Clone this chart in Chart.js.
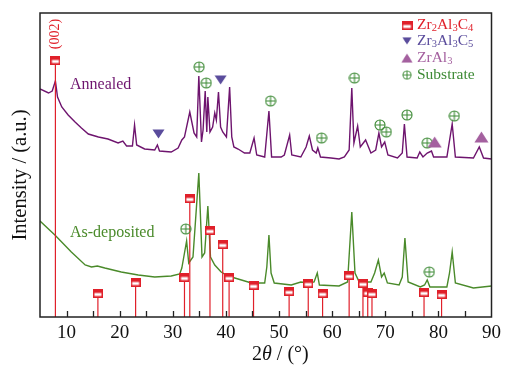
<!DOCTYPE html>
<html>
<head>
<meta charset="utf-8">
<script src="https://cdn.jsdelivr.net/npm/chart.js@4.4.0/dist/chart.umd.min.js"></script>
<style>
  html, body { margin: 0; padding: 0; background: #fff; }
  #wrap { position: relative; width: 506px; height: 368px; }
</style>
</head>
<body>
<div id="wrap"><canvas id="xrd"></canvas></div>
<script>
// 2theta (deg) and intensity (a.u.)
const annealedTheta = [5.0, 6.6, 7.3, 7.9, 8.3, 9.1, 10.3, 11.6, 12.8, 14.1, 16.0, 17.8, 19.7, 20.6, 21.3, 22.4, 22.8, 23.2, 24.7, 26.6, 27.1, 27.5, 29.7, 31.0, 31.7, 32.2, 33.2, 34.0, 34.5, 34.9, 35.4, 35.7, 36.1, 36.4, 36.6, 37.0, 37.5, 37.9, 38.2, 38.6, 39.0, 39.4, 40.1, 40.7, 41.1, 41.5, 42.3, 43.5, 44.5, 45.3, 45.8, 47.3, 48.1, 48.6, 50.4, 51.0, 52.0, 52.4, 54.1, 55.1, 55.7, 56.3, 57.0, 57.3, 57.8, 59.8, 61.3, 62.3, 63.2, 63.7, 64.1, 64.8, 65.3, 66.3, 67.3, 68.2, 68.8, 69.3, 69.9, 70.5, 72.3, 73.2, 73.6, 74.1, 76.0, 76.5, 77.1, 77.9, 78.7, 79.1, 81.6, 82.6, 83.2, 86.6, 87.7, 88.5, 90.0];
const annealedI = [228, 224, 226, 236, 220, 210, 202, 195, 189, 183, 180, 178, 174, 176, 171, 171, 192, 172, 168, 167, 172, 166, 165, 169, 177, 180, 205, 184, 180, 241, 175, 187, 226, 185, 220, 185, 190, 204, 197, 225, 190, 185, 180, 230, 180, 170, 168, 164, 164, 179, 162, 160, 206, 160, 160, 162, 182, 162, 160, 170, 181, 167, 164, 169, 160, 159, 158, 160, 167, 229, 174, 191, 170, 177, 164, 167, 184, 170, 175, 162, 159, 164, 193, 160, 159, 165, 160, 164, 166, 160, 160, 193, 160, 159, 170, 159, 158];

const depositedTheta = [5.0, 7.8, 10.9, 13.5, 14.7, 15.8, 17.2, 20.3, 23.5, 26.6, 29.7, 31.3, 31.7, 32.2, 32.6, 33.0, 33.8, 34.9, 35.5, 36.0, 36.6, 37.1, 37.9, 39.1, 40.4, 42.3, 44.8, 47.3, 47.7, 48.1, 48.5, 49.1, 52.3, 54.1, 55.7, 56.6, 57.2, 57.6, 61.3, 62.9, 63.7, 64.3, 65.1, 67.3, 68.0, 68.7, 69.3, 69.8, 70.4, 72.6, 73.2, 73.7, 74.3, 76.6, 77.4, 77.9, 78.4, 81.6, 82.1, 82.6, 83.2, 86.6, 90.0];
const depositedI = [96, 82, 65, 52, 50, 51, 49, 45, 42, 40, 41, 43, 49, 64, 76, 54, 60, 144, 60, 64, 111, 60, 52, 45, 41, 38, 34, 34, 50, 82, 44, 34, 32, 35, 34, 35, 44, 32, 31, 35, 105, 44, 35, 35, 44, 57, 40, 44, 34, 32, 40, 79, 35, 30, 32, 37, 30, 30, 44, 65, 34, 29, 31];

// Zr2Al3C4 reference pattern (stick positions and heights)
const refTheta = [7.9, 15.9, 23.0, 32.2, 33.2, 37.0, 39.4, 40.6, 45.2, 51.9, 55.5, 58.2, 63.2, 65.8, 66.7, 67.5, 77.3, 80.6];
const refI = [257, 24, 35, 40, 119, 87, 73, 40, 32, 26, 34, 24, 42, 34, 25, 24, 25, 23];

// phase tags
const zr3Theta = [27.3, 39.0];
const zr3I = [183, 237];
const zrAl3Theta = [79.3, 88.1];
const zrAl3I = [175, 180];
const substrateTheta = [34.96, 36.3, 48.4, 58.0, 64.2, 69.0, 70.2, 74.1, 77.9, 83.0, 32.45, 78.3];
const substrateI = [250, 234, 216, 179, 239, 192, 185, 202, 174, 201, 88, 45];

const xTicks = [10, 20, 30, 40, 50, 60, 70, 80, 90];

const COLORS = {
  annealed: "#6e146e",
  deposited: "#4a8a2a",
  red: "#e0202a",
  blue: "#5a4c9c",
  pink: "#a4609f",
  green: "#3d8a35",
};
const SERIF = "'Liberation Serif', 'Times New Roman', serif";

function makeMarker(w, h, draw) {
  const c = document.createElement("canvas");
  c.width = w; c.height = h;
  draw(c.getContext("2d"), w, h);
  return c;
}

const squareImg = makeMarker(10, 9, (g, w, h) => {
  g.fillStyle = COLORS.red;
  g.fillRect(0, 0, w, h);
  g.fillStyle = "#fff";
  g.fillRect(1.5, 4.5, w - 3, h - 6);
});
const downTriImg = makeMarker(13, 10, (g) => {
  g.fillStyle = COLORS.blue;
  g.beginPath(); g.moveTo(0.5, 0.5); g.lineTo(12.5, 0.5); g.lineTo(6.5, 9.5); g.closePath(); g.fill();
});
const upTriImg = makeMarker(15, 12, (g) => {
  g.fillStyle = COLORS.pink;
  g.beginPath(); g.moveTo(7.5, 0.5); g.lineTo(14.5, 11.5); g.lineTo(0.5, 11.5); g.closePath(); g.fill();
});
const plusCircleImg = makeMarker(12, 12, (g) => {
  g.strokeStyle = COLORS.green; g.lineWidth = 1.1;
  g.beginPath(); g.arc(6, 6, 5, 0, Math.PI * 2); g.stroke();
  g.beginPath(); g.moveTo(1, 6); g.lineTo(11, 6); g.moveTo(6, 1); g.lineTo(6, 11); g.stroke();
});

const pts = (xs, ys) => xs.map((x, i) => ({ x, y: ys[i] }));
const stickPts = refTheta.flatMap((t, i) => [{ x: t, y: 0 }, { x: t, y: refI[i] }, { x: t, y: null }]);

// text with subscripts: parts = [[text, isSub], ...]
function drawRich(ctx, parts, x, y, size, color) {
  ctx.fillStyle = color;
  ctx.textBaseline = "middle";
  ctx.textAlign = "left";
  for (const [t, sub] of parts) {
    ctx.font = `${sub ? size * 0.68 : size}px ${SERIF}`;
    ctx.fillText(t, x, sub ? y + size * 0.22 : y);
    x += ctx.measureText(t).width;
  }
}
const sub = (s) => s.split(/(\d)/).filter(Boolean).map(p => [p, /\d/.test(p)]);

const decorations = {
  id: "decorations",
  afterDatasetsDraw(chart) {
    const { ctx, chartArea: a, scales: { x } } = chart;
    ctx.save();
    // frame and inward ticks
    ctx.strokeStyle = "#222";
    ctx.lineWidth = 1.5;
    ctx.strokeRect(a.left, a.top, a.right - a.left, a.bottom - a.top);
    ctx.beginPath();
    for (let v = 10; v < 90; v += 5) {
      const px = Math.round(x.getPixelForValue(v)) + 0.5;
      ctx.moveTo(px, a.bottom);
      ctx.lineTo(px, a.bottom - 6);
    }
    ctx.lineWidth = 1.3;
    ctx.stroke();

    // curve labels
    ctx.font = `16px ${SERIF}`;
    ctx.textBaseline = "middle";
    ctx.fillStyle = COLORS.annealed;
    ctx.fillText("Annealed", 70, 85);
    ctx.fillStyle = COLORS.deposited;
    ctx.fillText("As-deposited", 70, 233);

    // (002) label
    ctx.save();
    ctx.translate(x.getPixelForValue(7.9), 34);
    ctx.rotate(-Math.PI / 2);
    ctx.textAlign = "center";
    ctx.font = `14px ${SERIF}`;
    ctx.fillStyle = COLORS.red;
    ctx.fillText("(002)", 0, 0);
    ctx.restore();

    // legend
    const lx = 407, ly = [25, 41, 58, 75];
    ctx.drawImage(squareImg, lx - 5.5, ly[0] - 4.5, 11, 9);
    ctx.drawImage(downTriImg, lx - 5, ly[1] - 4, 10, 8);
    ctx.drawImage(upTriImg, lx - 6, ly[2] - 5, 12, 10);
    ctx.drawImage(plusCircleImg, lx - 5, ly[3] - 5, 10, 10);
    drawRich(ctx, sub("Zr2Al3C4"), 417, ly[0], 15.5, COLORS.red);
    drawRich(ctx, sub("Zr3Al3C5"), 417, ly[1], 15.5, COLORS.blue);
    drawRich(ctx, sub("ZrAl3"), 417, ly[2], 15.5, COLORS.pink);
    drawRich(ctx, [["Substrate", false]], 417, ly[3], 15.5, COLORS.green);

    // axis titles
    ctx.fillStyle = "#111";
    ctx.textBaseline = "middle";
    let tx = 252;
    const ty = 355;
    for (const [t, it] of [["2", false], ["\u03b8", true], [" / (\u00b0)", false]]) {
      ctx.font = `${it ? "italic " : ""}20px ${SERIF}`;
      ctx.fillText(t, tx, ty);
      tx += ctx.measureText(t).width;
    }
    ctx.save();
    ctx.translate(21, 175);
    ctx.rotate(-Math.PI / 2);
    ctx.textAlign = "center";
    ctx.font = `20.5px ${SERIF}`;
    ctx.fillText("Intensity / (a.u.)", 0, 0);
    ctx.restore();
    ctx.restore();
  },
};

const ctx = document.getElementById("xrd").getContext("2d");
new Chart(ctx, {
  type: "scatter",
  data: {
    datasets: [
      {
        data: pts(annealedTheta, annealedI),
        showLine: true, borderColor: COLORS.annealed, borderWidth: 1.4,
        pointRadius: 0, tension: 0, order: 3,
      },
      {
        data: pts(depositedTheta, depositedI),
        showLine: true, borderColor: COLORS.deposited, borderWidth: 1.4,
        pointRadius: 0, tension: 0, order: 3,
      },
      {
        data: stickPts,
        showLine: true, spanGaps: false, borderColor: COLORS.red, borderWidth: 1.2,
        pointRadius: 0, order: 2,
      },
      { data: pts(refTheta, refI), pointStyle: squareImg, pointRadius: 5, order: 1 },
      { data: pts(zr3Theta, zr3I), pointStyle: downTriImg, pointRadius: 5, order: 1 },
      { data: pts(zrAl3Theta, zrAl3I), pointStyle: upTriImg, pointRadius: 5, order: 1 },
      { data: pts(substrateTheta, substrateI), pointStyle: plusCircleImg, pointRadius: 5, order: 1 },
    ],
  },
  options: {
    responsive: true,
    maintainAspectRatio: false,
    animation: false,
    events: [],
    layout: { padding: { left: 40, right: 12, top: 13, bottom: 0 } },
    plugins: { legend: { display: false }, tooltip: { enabled: false } },
    scales: {
      x: {
        type: "linear", min: 5, max: 90,
        afterBuildTicks: (s) => { s.ticks = xTicks.map(v => ({ value: v })); },
        afterFit: (s) => { s.height = 51; },
        ticks: { color: "#111", font: { family: SERIF, size: 19 }, padding: 5, maxRotation: 0 },
        grid: { display: false, drawTicks: false },
        border: { display: false },
      },
      y: {
        display: false, min: 0, max: 304,
      },
    },
  },
  plugins: [decorations],
});
</script>
</body>
</html>
